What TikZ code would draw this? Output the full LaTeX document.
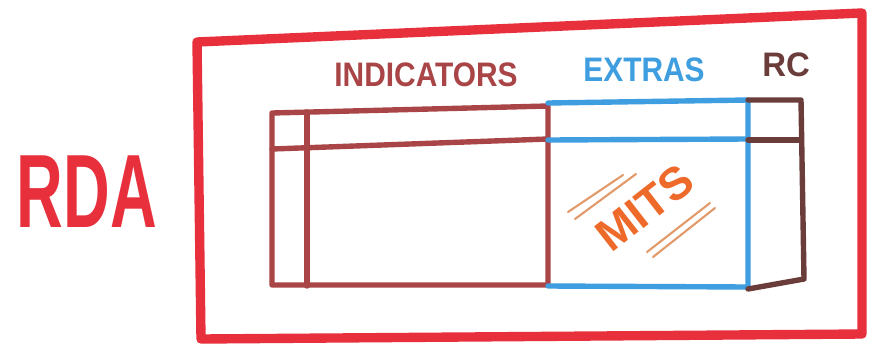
\documentclass[tikz,border=0pt]{standalone}
\usepackage{fontspec}
\setmainfont{Liberation Sans}
\usepackage{xcolor}
\definecolor{rdared}{HTML}{E8303C}
\definecolor{indbrown}{HTML}{A94546}
\definecolor{extrablue}{HTML}{3E9EE0}
\definecolor{rcbrown}{HTML}{6A3C3A}
\definecolor{mitsorange}{HTML}{EE6A2A}
\definecolor{mitsline}{HTML}{E39A6A}
\usepackage{tikz}
\usetikzlibrary{positioning}

\begin{document}
\begin{tikzpicture}[
  x=0.03cm, y=-0.03cm,
  line cap=round, line join=round,
  frame/.style ={draw=rdared,line width=8pt},
  grid/.style  ={line width=4.6pt},
  label/.style ={inner sep=0pt,font=\fontsize{29}{30}\selectfont\bfseries,xscale=0.88},
  accent/.style={draw=mitsline,line width=1.8pt}
]
\useasboundingbox[fill=white] (0,0) rectangle (876,355);

% outer frame and its name
\draw[frame] (197,42) -- (862,13) -- (862,334) -- (201,339) -- cycle;
\node[inner sep=0pt,text=rdared,font=\fontsize{89}{90}\selectfont\bfseries,xscale=0.62] (rda) at (87,192) {RDA};

% indicators block
\draw[grid,indbrown] (548,106) -- (272,113) -- (272,285) -- (548,285) -- cycle;
\draw[grid,indbrown] (272,149) -- (548,139);
\draw[grid,indbrown] (307,112) -- (307,286);

% extras block
\draw[grid,extrablue] (548,103) -- (748,100) -- (748,287) -- (548,286);
\draw[grid,extrablue] (548,140) -- (748,139);

% rc block
\draw[grid,rcbrown] (748,100) -- (801,100) -- (804,279) -- (748,289);
\draw[grid,rcbrown] (748,140) -- (801,140);

% column labels
\node[label,text=indbrown]  (ind) at (426,75) {INDICATORS};
\node[label,text=extrablue] (ext) at (644,70) {EXTRAS};
\node[label,text=rcbrown,xscale=1.1] (rc) at (786,65) {RC};

% mits stamp
\node[inner sep=0pt,text=mitsorange,font=\fontsize{39}{39}\selectfont\bfseries,rotate=38] (mits) at (645,208) {MITS};
\draw[accent] (568,212) -- (623,175);
\draw[accent] (575,219) -- (636,174);
\draw[accent] (647,252) -- (710,203);
\draw[accent] (653,257) -- (715,208);

\end{tikzpicture}
\end{document}
